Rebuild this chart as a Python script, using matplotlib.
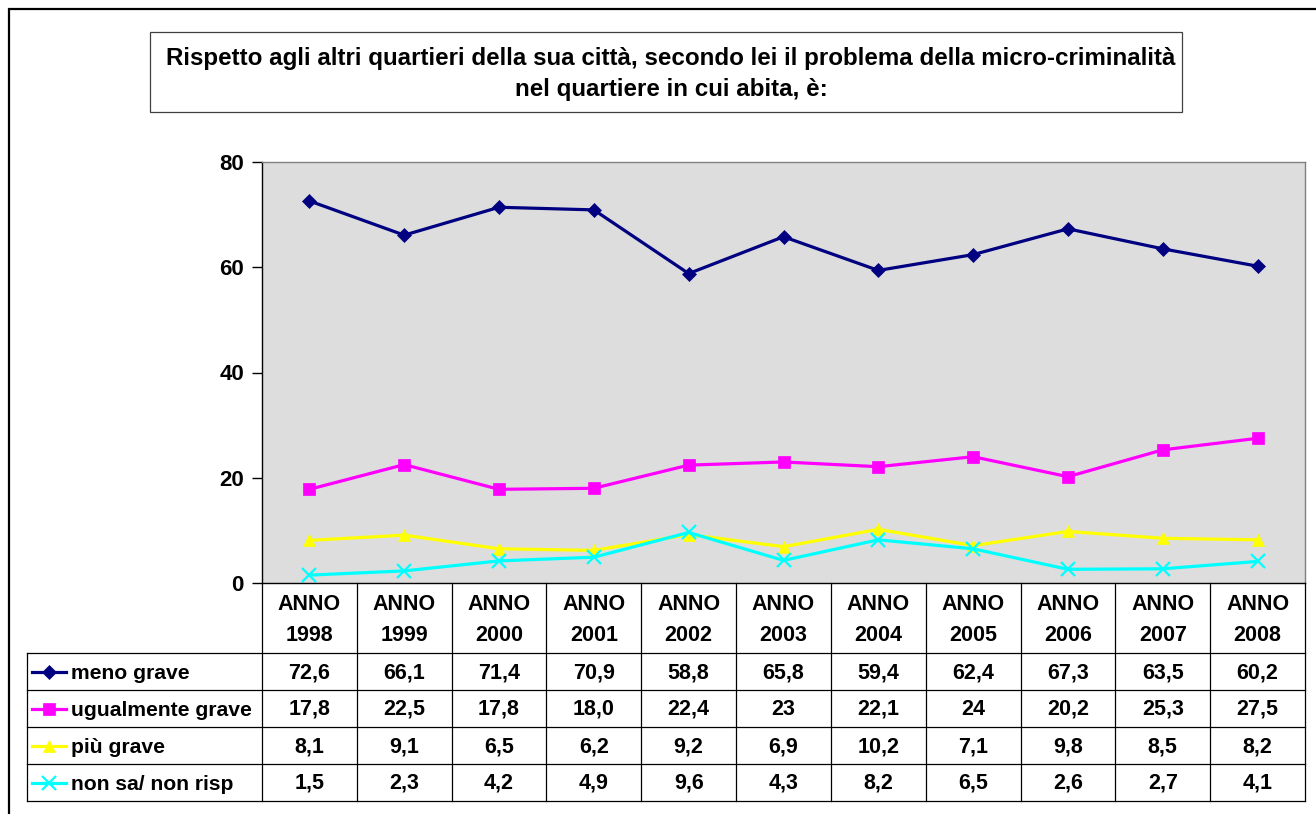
import numpy as np
import matplotlib
matplotlib.use("Agg")
from matplotlib import pyplot as plt
from matplotlib.lines import Line2D
from matplotlib.patches import Rectangle

W, H = 1316, 814

years = ["1998", "1999", "2000", "2001", "2002", "2003",
         "2004", "2005", "2006", "2007", "2008"]
categories = ["ANNO\n" + y for y in years]

series_names = ["meno grave", "ugualmente grave", "più grave", "non sa/ non risp"]
meno_grave = ["72,6", "66,1", "71,4", "70,9", "58,8", "65,8", "59,4", "62,4", "67,3", "63,5", "60,2"]
ugualmente_grave = ["17,8", "22,5", "17,8", "18,0", "22,4", "23", "22,1", "24", "20,2", "25,3", "27,5"]
piu_grave = ["8,1", "9,1", "6,5", "6,2", "9,2", "6,9", "10,2", "7,1", "9,8", "8,5", "8,2"]
non_sa = ["1,5", "2,3", "4,2", "4,9", "9,6", "4,3", "8,2", "6,5", "2,6", "2,7", "4,1"]
series_values = [meno_grave, ugualmente_grave, piu_grave, non_sa]

colors = ["#000080", "#FF00FF", "#FFFF00", "#00FFFF"]
markers = ["D", "s", "^", "x"]
msizes = [7.5, 8, 9, 10]

title = ("Rispetto agli altri quartieri della sua città, secondo lei il problema della micro-criminalità\n"
         "nel quartiere in cui abita, è:")

plt.rcParams['font.family'] = ['Liberation Sans', 'DejaVu Sans']
plt.rcParams['font.weight'] = 'bold'


def fx(x):
    return x / W


def fy(y):
    return 1 - y / H


fig = plt.figure(figsize=(W / 100, H / 100), dpi=100)

# outer chart frame
fig.patches.append(Rectangle((fx(9), fy(H + 5)), 1.0, fy(9) - fy(H + 5),
                             transform=fig.transFigure, fill=False,
                             edgecolor="black", linewidth=1.6))

# title box
fig.patches.append(Rectangle((fx(150), fy(112)), fx(1182) - fx(150), fy(32) - fy(112),
                             transform=fig.transFigure, facecolor="white",
                             edgecolor="#404040", linewidth=0.9))
fig.text(fx(671), fy(74), title, ha="center", va="center", fontsize=17.4,
         fontweight="bold", linespacing=1.47)

# plot area
left, right, top, bottom = 262, 1305, 162, 583
ax = fig.add_axes([fx(left), fy(bottom), fx(right) - fx(left), fy(top) - fy(bottom)])
ax.set_facecolor("#DDDDDD")
for s in ax.spines.values():
    s.set_edgecolor("#808080")
    s.set_linewidth(1.0)
ax.spines["bottom"].set_edgecolor("black")
ax.spines["left"].set_edgecolor("black")

x = np.arange(len(years))
for vals, c, m, ms in zip(series_values, colors, markers, msizes):
    y = [float(v.replace(",", ".")) for v in vals]
    ax.plot(x, y, color=c, marker=m, markersize=ms, linewidth=2.3,
            markeredgewidth=1.6 if m == "x" else 0.5, markeredgecolor=c)

ax.set_xlim(-0.5, len(years) - 0.5)
ax.set_ylim(0, 80)
ax.set_yticks([0, 20, 40, 60, 80])
ax.tick_params(axis="y", direction="out", length=7, width=1, color="black",
               labelsize=16, pad=6)
for t in ax.get_yticklabels():
    t.set_fontweight("bold")
ax.set_xticks([])

# data table
col_w = (right - left) / len(years)
tab_left = 27
head_bottom = 653
row_h = 37
rows_y = [head_bottom + i * row_h for i in range(len(series_names) + 1)]
lc = "black"
lw = 0.9

# header vertical lines
for i in range(len(years) + 1):
    xx = left + i * col_w
    fig.add_artist(Line2D([fx(xx), fx(xx)], [fy(bottom), fy(rows_y[-1])],
                          transform=fig.transFigure, color=lc, linewidth=lw))
fig.add_artist(Line2D([fx(tab_left), fx(tab_left)], [fy(head_bottom), fy(rows_y[-1])],
                      transform=fig.transFigure, color=lc, linewidth=lw))
for yy in rows_y:
    fig.add_artist(Line2D([fx(tab_left), fx(right)], [fy(yy), fy(yy)],
                          transform=fig.transFigure, color=lc, linewidth=lw))

for i, cat in enumerate(categories):
    fig.text(fx(left + (i + 0.5) * col_w), fy(620), cat,
             ha="center", va="center", fontsize=15.5, fontweight="bold", linespacing=1.6)

for r, (name, vals, c, m, ms) in enumerate(zip(series_names, series_values, colors, markers, msizes)):
    yc = (rows_y[r] + rows_y[r + 1]) / 2
    fig.add_artist(Line2D([fx(32), fx(66)], [fy(yc), fy(yc)], transform=fig.transFigure,
                          color=c, linewidth=2.3))
    fig.add_artist(Line2D([fx(49)], [fy(yc)], transform=fig.transFigure, color=c,
                          marker=m, markersize=ms, markeredgecolor=c,
                          markeredgewidth=1.6 if m == "x" else 0.5))
    fig.text(fx(71), fy(yc + 2), name, ha="left", va="center", fontsize=15.2,
             fontweight="bold")
    for i, v in enumerate(vals):
        fig.text(fx(left + (i + 0.5) * col_w), fy(yc + 1), v, ha="center", va="center",
                 fontsize=15.5, fontweight="bold")

fig.savefig("out.png", dpi=100)
